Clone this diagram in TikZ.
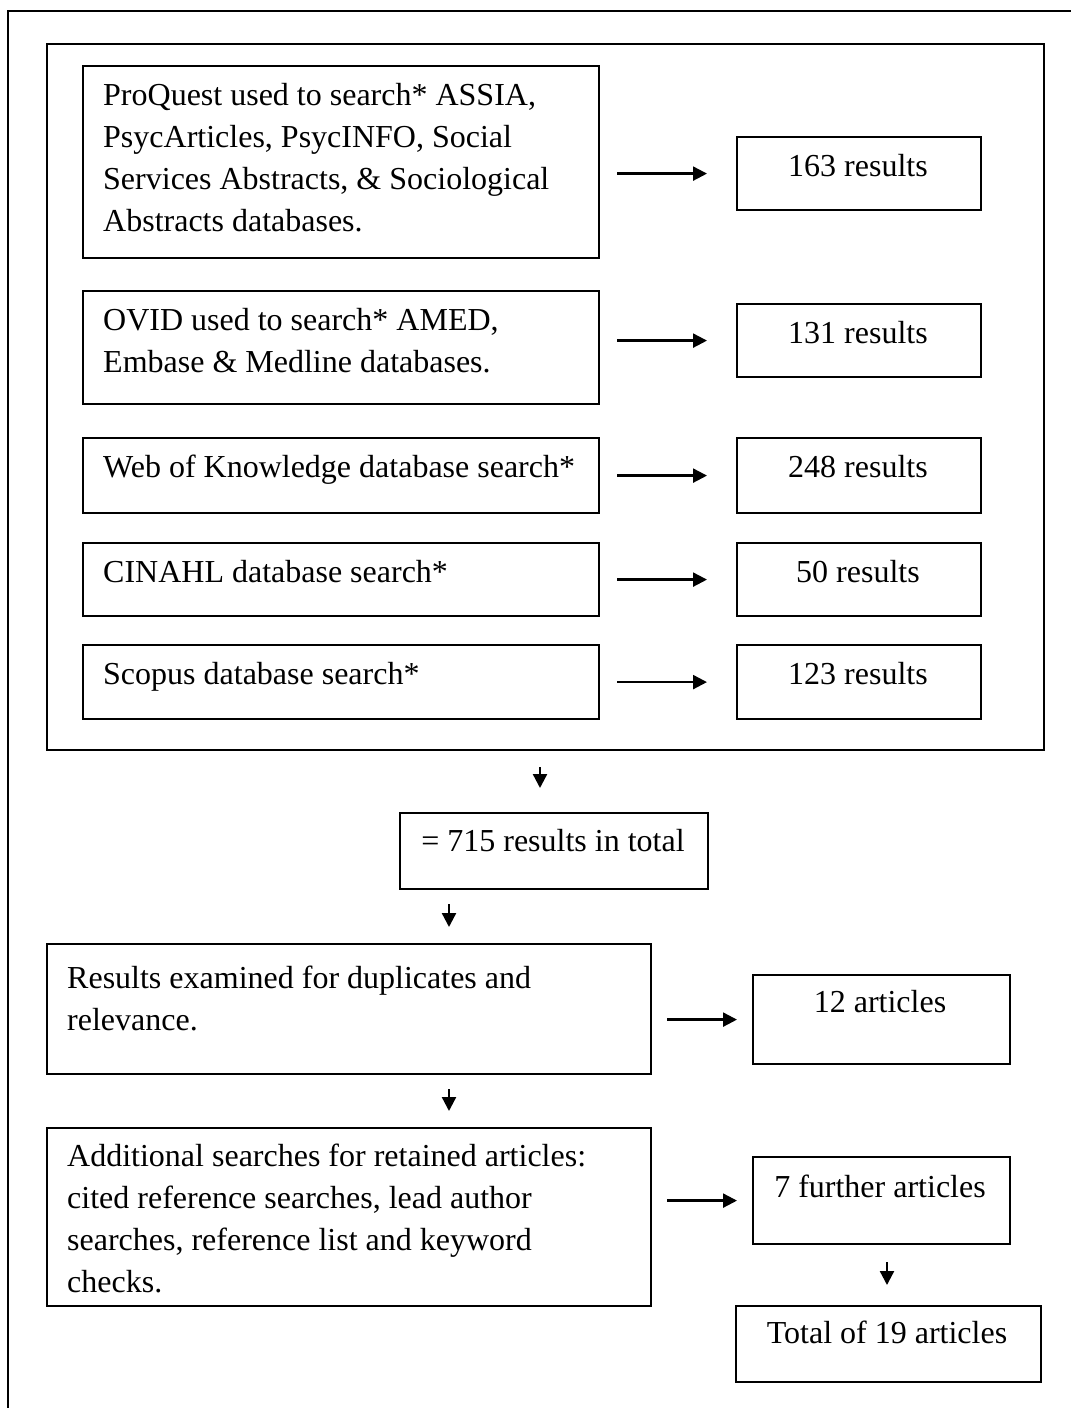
\documentclass[tikz,border=0pt]{standalone}
\usepackage{fontspec}
\setmainfont{Liberation Serif}
\usetikzlibrary{arrows.meta}
\begin{document}
\begin{tikzpicture}[x=1pt,y=-1pt,
  box/.style={draw,line width=2.2pt,rectangle,inner sep=0pt,anchor=north west},
  arr/.style={line width=2.3pt,-{Triangle[length=14pt,width=14pt]}},
  txt/.style={inner sep=0pt,anchor=base west,font=\fontsize{32}{42}\selectfont},
  ctxt/.style={inner sep=0pt,anchor=base,font=\fontsize{32}{42}\selectfont}]
\useasboundingbox (0,0) rectangle (1071,1408);
% outer frame (runs off the page at right and bottom)
\draw[line width=2.2pt] (8,1408) -- (8,11) -- (1071,11);
% inner frame
\node[box,minimum width=997pt,minimum height=706pt] (inner) at (46,43) {};
% database boxes
\node[box,minimum width=516pt,minimum height=192pt] (b1) at (82,65) {};
\node[box,minimum width=244pt,minimum height=73pt] (r1) at (736,136) {};
\node[box,minimum width=516pt,minimum height=113pt] (b2) at (82,290) {};
\node[box,minimum width=244pt,minimum height=73pt] (r2) at (736,303) {};
\node[box,minimum width=516pt,minimum height=75pt] (b3) at (82,437) {};
\node[box,minimum width=244pt,minimum height=75pt] (r3) at (736,437) {};
\node[box,minimum width=516pt,minimum height=73pt] (b4) at (82,542) {};
\node[box,minimum width=244pt,minimum height=73pt] (r4) at (736,542) {};
\node[box,minimum width=516pt,minimum height=74pt] (b5) at (82,644) {};
\node[box,minimum width=244pt,minimum height=74pt] (r5) at (736,644) {};
% lower boxes
\node[box,minimum width=308pt,minimum height=76pt] (sum) at (399,812) {};
\node[box,minimum width=604pt,minimum height=130pt] (res) at (46,943) {};
\node[box,minimum width=257pt,minimum height=89pt] (r12) at (752,974) {};
\node[box,minimum width=604pt,minimum height=178pt] (add) at (46,1127) {};
\node[box,minimum width=257pt,minimum height=87pt] (r7) at (752,1156) {};
\node[box,minimum width=305pt,minimum height=76pt] (fin) at (735,1305) {};
% texts
\node[txt] (t1) at (103,105) {\parbox[t]{480pt}{ProQuest used to search* ASSIA,\\PsycArticles, PsycINFO, Social\\Services Abstracts, \& Sociological\\Abstracts databases.}};
\node[txt] (t2) at (103,330) {\parbox[t]{480pt}{OVID used to search* AMED,\\Embase \& Medline databases.}};
\node[txt] (t3) at (103,477) {Web of Knowledge database search*};
\node[txt] (t4) at (103,582) {CINAHL database search*};
\node[txt] (t5) at (103,684) {Scopus database search*};
\node[ctxt] (u1) at (858,176) {163 results};
\node[ctxt] (u2) at (858,343) {131 results};
\node[ctxt] (u3) at (858,477) {248 results};
\node[ctxt] (u4) at (858,582) {50 results};
\node[ctxt] (u5) at (858,684) {123 results};
\node[ctxt] (tsum) at (553,851) {= 715 results in total};
\node[txt] (tres) at (67,988) {\parbox[t]{570pt}{Results examined for duplicates and\\relevance.}};
\node[ctxt] (t12) at (880,1012) {12 articles};
\node[txt] (tadd) at (67,1166) {\parbox[t]{570pt}{Additional searches for retained articles:\\cited reference searches, lead author\\searches, reference list and keyword\\checks.}};
\node[ctxt] (t7) at (880,1197) {7 further articles};
\node[ctxt] (tfin) at (887,1343) {Total of 19 articles};
% horizontal arrows
\draw[arr,shorten <=17pt,shorten >=29pt] (b1.east |- r1.west) -- (r1.west);
\draw[arr,shorten <=17pt,shorten >=29pt] (b2.east |- r2.west) -- (r2.west);
\draw[arr,shorten <=17pt,shorten >=29pt] (b3.east |- r3.west) -- (r3.west);
\draw[arr,shorten <=17pt,shorten >=29pt] (b4.east |- r4.west) -- (r4.west);
\draw[arr,shorten <=17pt,shorten >=29pt] (b5.east |- r5.west) -- (r5.west);
\draw[arr,shorten <=15pt,shorten >=15pt] (res.east |- r12.west) -- (r12.west);
\draw[arr,shorten <=15pt,shorten >=15pt] (add.east |- r7.west) -- (r7.west);
% vertical arrows
\coordinate (c1) at (540,0);
\coordinate (c2) at (449,0);
\coordinate (c3) at (887,0);
\draw[arr,shorten <=16pt,shorten >=24pt] (c1 |- inner.south) -- (c1 |- sum.north);
\draw[arr,shorten <=14pt,shorten >=16pt] (c2 |- sum.south) -- (c2 |- res.north);
\draw[arr,shorten <=14pt,shorten >=16pt] (c2 |- res.south) -- (c2 |- add.north);
\draw[arr,shorten <=17pt,shorten >=20pt] (c3 |- r7.south) -- (c3 |- fin.north);
\end{tikzpicture}
\end{document}
